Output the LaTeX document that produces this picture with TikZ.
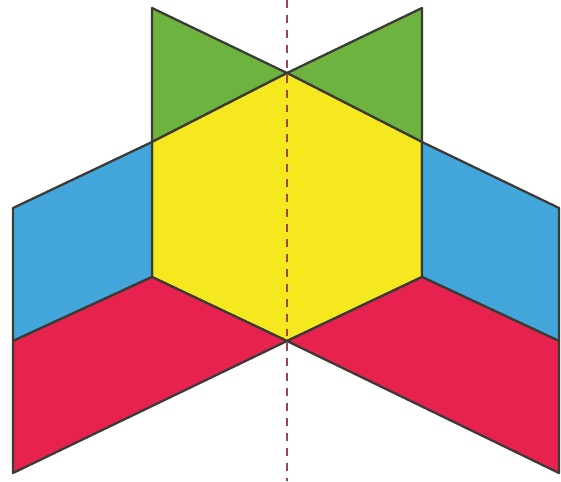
\documentclass[tikz,border=0pt]{standalone}
\usepackage{tikz}

\definecolor{blockgreen}{HTML}{6CB43F}
\definecolor{blockyellow}{HTML}{F6E81E}
\definecolor{blockblue}{HTML}{43A6DB}
\definecolor{blockred}{HTML}{E8224F}
\definecolor{edgegray}{HTML}{3C3A36}
\definecolor{axisred}{HTML}{9E4450}

\begin{document}
\begin{tikzpicture}[
      x=0.02cm, y=-0.02cm,
      piece/.style={draw=edgegray, line width=1.3pt, line join=round},
      axis/.style={draw=axisred, line width=1.5pt, dash pattern=on 4.5pt off 4pt}
    ]
    \useasboundingbox (0,0) rectangle (561,481);

    % hexagon corners
    \coordinate (top) at (287,73);
    \coordinate (ul) at (152,142);
    \coordinate (ll) at (152,277);
    \coordinate (bot) at (287,341);
    \coordinate (lr) at (422,277);
    \coordinate (ur) at (422,142);

    % triangles
    \filldraw[piece, fill=blockgreen] (152,8) -- (top) -- (ul) -- cycle;
    \filldraw[piece, fill=blockgreen] (422,8) -- (top) -- (ur) -- cycle;

    % hexagon
    \filldraw[piece, fill=blockyellow] (top) -- (ul) -- (ll) -- (bot) -- (lr) -- (ur) -- cycle;

    % rhombi
    \filldraw[piece, fill=blockblue] (13,208) -- (ul) -- (ll) -- (13,341) -- cycle;
    \filldraw[piece, fill=blockblue] (559,208) -- (ur) -- (lr) -- (559,341) -- cycle;

    % trapezoids
    \filldraw[piece, fill=blockred] (13,341) -- (ll) -- (bot) -- (13,473) -- cycle;
    \filldraw[piece, fill=blockred] (559,341) -- (lr) -- (bot) -- (559,473) -- cycle;

    % line of symmetry
    \coordinate (axtop) at (287,0);
    \coordinate (axbot) at (287,481);
    \draw[axis] (axtop) -- (axbot);
  \end{tikzpicture}
\end{document}
